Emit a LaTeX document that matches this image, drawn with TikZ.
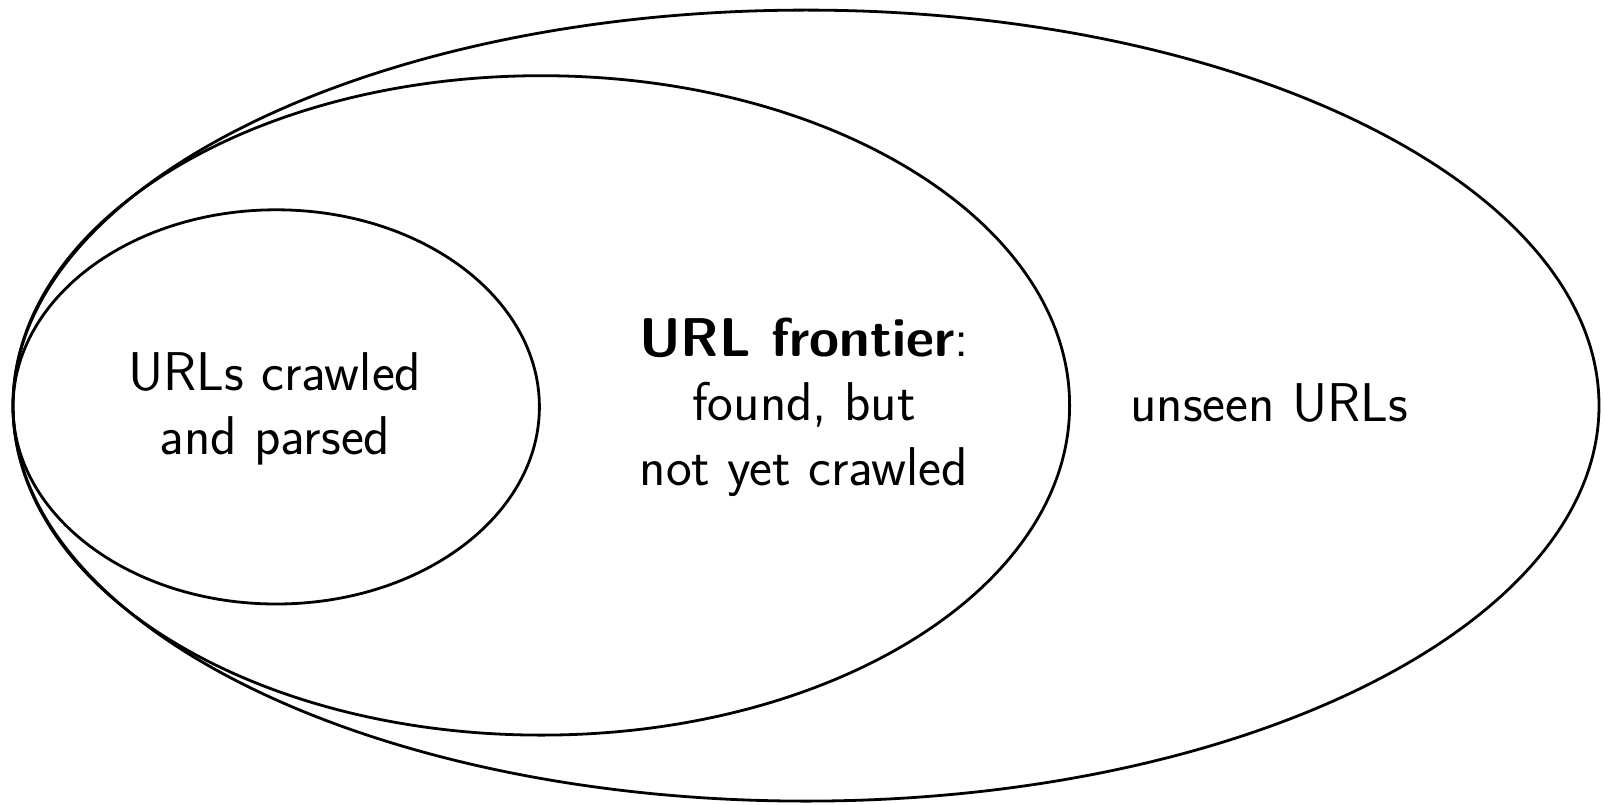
\documentclass[tikz,border=0pt]{standalone}
\begin{document}
\begin{tikzpicture}[x=1pt,y=-1pt,
  setline/.style={line width=2.8pt,draw=black},
  lbl/.style={align=center,font=\sffamily\fontsize{54.6}{64.5}\selectfont,inner sep=0pt}]
\useasboundingbox (0,0) rectangle (1605,805);
\draw[setline] (806,405.6) ellipse [x radius=793, y radius=395.5];
\draw[setline] (541.3,405.4) ellipse [x radius=528.3, y radius=329.7];
\draw[setline] (276.2,406.9) ellipse [x radius=263.2, y radius=197.1];
\node[lbl] (crawled) at (275,409) {URLs crawled\\and parsed};
\node[lbl] (frontier) at (804,407) {\textbf{URL frontier}:\\found, but\\not yet crawled};
\node[lbl] (unseen) at (1269,403) {unseen URLs};
\end{tikzpicture}
\end{document}
